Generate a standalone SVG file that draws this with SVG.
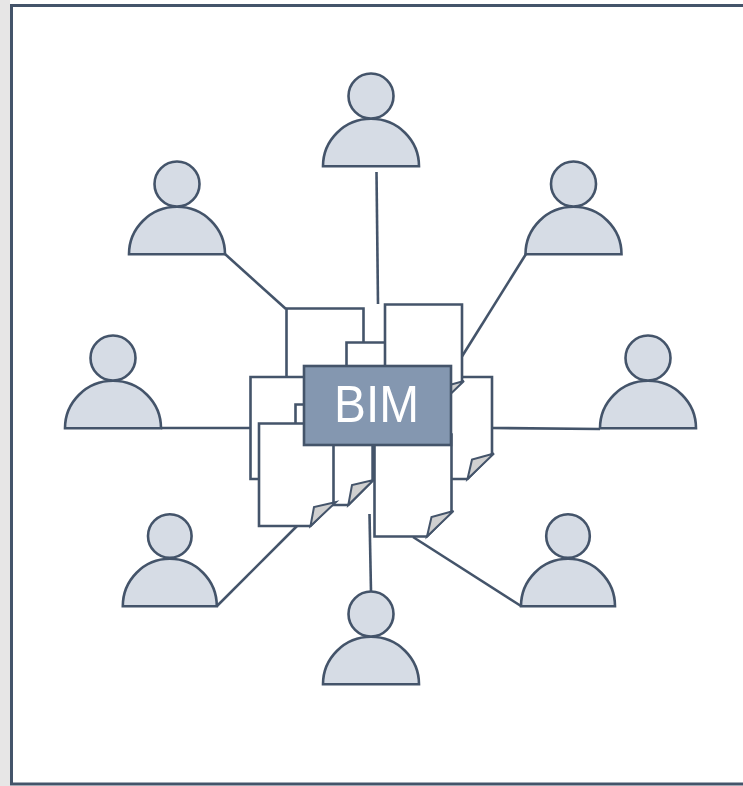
<svg xmlns="http://www.w3.org/2000/svg" xmlns:xlink="http://www.w3.org/1999/xlink" width="743" height="786" viewBox="0 0 743 786">
<style>
.s{stroke:#44546a;stroke-width:2.6;stroke-linejoin:miter}
.p{fill:#d6dce5}
.d{fill:#fff}
.f{fill:#d0d0d0;stroke-width:2}
.c{fill:none}
</style>
<defs>
<g id="person"><path class="s p" d="M-48 0.300A48 47.500 0 0 1 48 0.300Z"/><circle class="s p" cy="-70" r="22.500"/></g>
<g id="person-small"><path class="s p" d="M-47 0.300A47 47.500 0 0 1 47 0.300Z"/><circle class="s p" cy="-70" r="21.800"/></g>
<g id="doc"><path class="s d" d="M0 0H77V77L52.500 102H0Z"/><path class="s f" d="M52.500 102L57 82.500L79 76.500Z"/></g>
</defs>
<rect width="743" height="786" fill="#fff"/>
<rect x="0" y="0" width="10" height="786" fill="#e7e6e6"/>
<rect x="11.500" y="5.500" width="740" height="778.500" fill="#fff" stroke="#44546a" stroke-width="3"/>
<g id="connectors" class="s c">
<path d="M376.500 172L378 304"/>
<path d="M225 254L286 309"/>
<path d="M526 254L461 358"/>
<path d="M161 428H250"/>
<path d="M492 428L600 429"/>
<path d="M217 606L297 526"/>
<path d="M371 592L369.500 514"/>
<path d="M521 606L413 537"/>
</g>
<g id="doc-top-left"><use xlink:href="#doc" x="286.500" y="308.500"/></g>
<g id="doc-centre"><use xlink:href="#doc" x="346.500" y="342.500"/></g>
<g id="doc-left"><use xlink:href="#doc" x="250.500" y="377"/></g>
<g id="doc-right"><use xlink:href="#doc" x="415" y="377"/></g>
<g id="doc-top-right"><use xlink:href="#doc" x="385" y="304.500"/></g>
<g id="doc-middle"><path class="s d" d="M295.500 404.500H372.700V480.500L348.300 505H295.500Z"/><path class="s f" d="M348.300 505L352 485L373.500 480Z"/></g>
<g id="doc-front-left"><path class="s d" d="M259 423.500H333.500V503L310.500 526H259Z"/><path class="s f" d="M310.500 526L314 507L336 502Z"/></g>
<g id="doc-bottom"><use xlink:href="#doc" x="374.500" y="434.500"/></g>
<path d="M373 445V480" class="s c"/>
<g id="bim"><rect class="s" x="304" y="366" width="147" height="79" fill="#8497b0"/>
<text x="334" y="421.700" textLength="85" lengthAdjust="spacingAndGlyphs" font-family="'Liberation Sans',Arial,sans-serif" font-size="52" fill="#fff">BIM</text></g>
<g id="user-top"><use xlink:href="#person" x="371" y="166"/></g>
<g id="user-top-left"><use xlink:href="#person" x="177" y="254"/></g>
<g id="user-top-right"><use xlink:href="#person" x="573.500" y="254"/></g>
<g id="user-left"><use xlink:href="#person" x="113" y="428"/></g>
<g id="user-right"><use xlink:href="#person" x="648" y="428"/></g>
<g id="user-bottom-left"><use xlink:href="#person-small" x="169.800" y="606"/></g>
<g id="user-bottom-right"><use xlink:href="#person-small" x="568" y="606"/></g>
<g id="user-bottom"><use xlink:href="#person" x="371" y="684"/></g>
</svg>
